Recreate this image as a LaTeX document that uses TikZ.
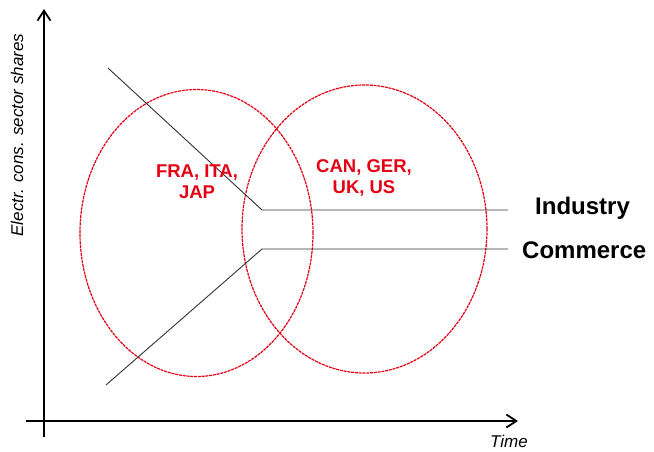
\documentclass[tikz,border=0pt]{standalone}
\usepackage{fontspec}
\setmainfont{Liberation Sans}
\usetikzlibrary{arrows.meta,shapes.geometric}
\definecolor{ered}{RGB}{228,0,18}
\tikzset{
  axis/.style={line width=2.4pt,-{Straight Barb[length=10pt,width=13pt,line width=1.8pt]}},
  venn/.style={draw=ered,line width=1.2pt,dash pattern=on 3pt off 0.8pt},
  trend/.style={line width=0.9pt,draw=black!80},
  redlbl/.style={text=ered,font=\bfseries\fontsize{18.5}{21}\selectfont,align=center},
  seclbl/.style={font=\bfseries\fontsize{24}{26}\selectfont,anchor=west,inner sep=0pt},
  axlbl/.style={font=\itshape\fontsize{17}{19}\selectfont,inner sep=0pt}
}
\begin{document}
\begin{tikzpicture}[x=1pt,y=-1pt]
\useasboundingbox (0,0) rectangle (654,451);
% ellipses
\node[venn,ellipse,minimum width=233pt,minimum height=287pt,inner sep=0pt] (L) at (196.5,233) {};
\node[venn,ellipse,minimum width=245pt,minimum height=288pt,inner sep=0pt] (R) at (364.5,229) {};
% axes
\coordinate (ybot) at (44,437);
\coordinate (ytop) at (44,9);
\coordinate (xl) at (26,421);
\coordinate (xr) at (518,421);
\draw[axis] (ybot) -- (ytop);
\draw[axis] (xl) -- (xr);
% trend lines
\coordinate (i0) at (108,68);
\coordinate (i1) at (262,210);
\coordinate (i2) at (508,210);
\coordinate (c0) at (106,385);
\coordinate (c1) at (262,249);
\coordinate (c2) at (508,249);
\draw[trend] (i0) -- (i1) -- (i2);
\draw[trend] (c0) -- (c1) -- (c2);
% labels
\node[redlbl] (fra) at (197,182) {FRA, ITA,\\JAP};
\node[redlbl] (can) at (364,178) {CAN, GER,\\UK, US};
\node[seclbl] (ind) at (535,208) {Industry};
\node[seclbl] (com) at (522,250) {Commerce};
\node[axlbl] (time) at (509,441) {Time};
\node[axlbl,rotate=90] (ylab) at (17,135) {Electr. cons. sector shares};
\end{tikzpicture}
\end{document}
